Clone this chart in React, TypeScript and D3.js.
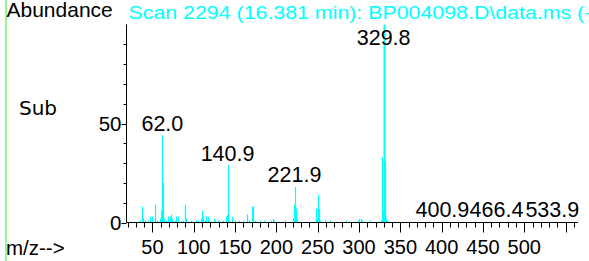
import React from "react";
import * as d3 from "d3";

// spectrum peaks (m/z, abundance %)
const mzValues = [
  35, 37, 38, 41, 45, 47, 49, 50, 53, 55, 59, 60, 61, 62, 63, 64, 66, 69, 71, 73, 74, 77, 79, 81, 84, 87,
  89, 90, 91, 97, 103, 105, 109, 110, 111, 113, 115, 117, 119, 124, 126, 129, 131, 135, 139, 140, 141,
  142, 143, 146, 150, 155, 160, 164, 165, 167, 170, 172, 174, 180, 185, 194, 196, 197, 210, 220, 221,
  222, 223, 224, 225, 248, 249, 250, 251, 252, 253, 259, 265, 284, 299, 300, 302, 303, 313, 327, 328,
  329, 330, 331, 332, 333, 334, 401, 466, 534,
];
const abundances = [
  1, 8, 2, 1, 1, 3, 3, 2, 9, 1, 2, 6, 27, 44, 20, 2, 1, 3, 3, 4, 2, 1, 3, 3, 1, 1,
  9, 8, 2, 1, 1, 1, 2, 6, 3, 1, 3, 3, 1, 2, 1, 1, 1, 1, 3, 4, 29,
  3, 1, 3, 1, 1, 1, 2, 4, 1, 8, 8, 1, 1, 1, 1, 2, 1, 1, 2, 9,
  18, 9, 7, 2, 7, 2, 14, 3, 7, 1, 1, 1, 1, 1, 2, 2, 1, 1, 1, 33,
  6, 100, 6, 31, 2, 1, 0.5, 0.4, 0.4,
];

// labelled peaks
const labelMz = [62.0, 140.9, 221.9, 329.8, 400.9, 466.4, 533.9];
const labelAbund = [44, 29, 18, 100, 0.5, 0.4, 0.4];

const xTicks = d3.range(20, 561, 10);
const xTickLabels = [50, 100, 150, 200, 250, 300, 350, 400, 450, 500];
const yTicks = d3.range(0, 91, 10);
const yTickLabels = [0, 50];

const title = "Scan 2294 (16.381 min): BP004098.D\\data.ms (-";

const W = 589;
const H = 261;

export default function App() {
  const x = d3.scaleLinear().domain([18, 565]).range([126, 578]);
  const y = d3.scaleLinear().domain([0, 100]).range([222.5, 24.5]);
  const axisX = 126.5;
  const base = y(0);
  const font = "'Liberation Sans', Arial, sans-serif";

  return (
    <svg
      width={W}
      height={H}
      style={{ position: "fixed", left: 0, top: 0, background: "#fff" }}
    >
      <rect width={W} height={H} fill="#fff" />
      <line x1={6} x2={6} y1={0} y2={H} stroke="#33ee33" strokeWidth={1} />

      <text x={6.5} y={17} fontFamily={font} fontSize={21} fill="#000">
        Abundance
      </text>
      <text
        x={0}
        y={0}
        fontFamily={font}
        fontSize={18.5}
        fill="#00ffff"
        transform={`translate(128.5,18.5) scale(1.155,1)`}
      >
        {title}
      </text>
      <text x={19} y={115} fontFamily="'DejaVu Sans', sans-serif" fontSize={20} fill="#000">
        Sub
      </text>
      <text x={6} y={255} fontFamily={font} fontSize={20.5} fill="#000">
        m/z--&gt;
      </text>

      {/* peaks */}
      {mzValues.map((m, i) => (
        <line
          key={"p" + i}
          x1={Math.round(x(m)) + 0.5}
          x2={Math.round(x(m)) + 0.5}
          y1={base}
          y2={y(abundances[i])}
          stroke="#00ffff"
          strokeWidth={abundances[i] > 50 ? 2 : 1.2}
        />
      ))}

      {/* axes */}
      <line x1={axisX} x2={axisX} y1={y(100)} y2={base} stroke="#000" />
      <line x1={axisX} x2={x(565)} y1={base} y2={base} stroke="#000" />
      {yTicks.map((t) => (
        <line
          key={"yt" + t}
          x1={axisX - (t % 50 === 0 ? 5 : 3)}
          x2={axisX}
          y1={Math.round(y(t)) + 0.5}
          y2={Math.round(y(t)) + 0.5}
          stroke="#000"
        />
      ))}
      {yTickLabels.map((t) => (
        <text
          key={"yl" + t}
          x={121.5}
          y={y(t)}
          dy="0.35em"
          textAnchor="end"
          fontFamily={font}
          fontSize={20.5}
          fill="#000"
        >
          {t}
        </text>
      ))}
      {xTicks.map((t) => (
        <line
          key={"xt" + t}
          x1={Math.round(x(t)) + 0.5}
          x2={Math.round(x(t)) + 0.5}
          y1={base}
          y2={base + (t % 50 === 0 ? 10 : 5)}
          stroke="#000"
        />
      ))}
      {xTickLabels.map((t) => (
        <text
          key={"xl" + t}
          x={x(t)}
          y={254}
          textAnchor="middle"
          fontFamily={font}
          fontSize={20}
          fill="#000"
        >
          {t}
        </text>
      ))}

      {/* peak labels */}
      {labelMz.map((m, i) => (
        <text
          key={"pl" + i}
          x={x(m)}
          y={Math.max(y(labelAbund[i]) - 4.5, 45)}
          textAnchor="middle"
          fontFamily={font}
          fontSize={21.5}
          fill="#000"
        >
          {m.toFixed(1)}
        </text>
      ))}
    </svg>
  );
}
